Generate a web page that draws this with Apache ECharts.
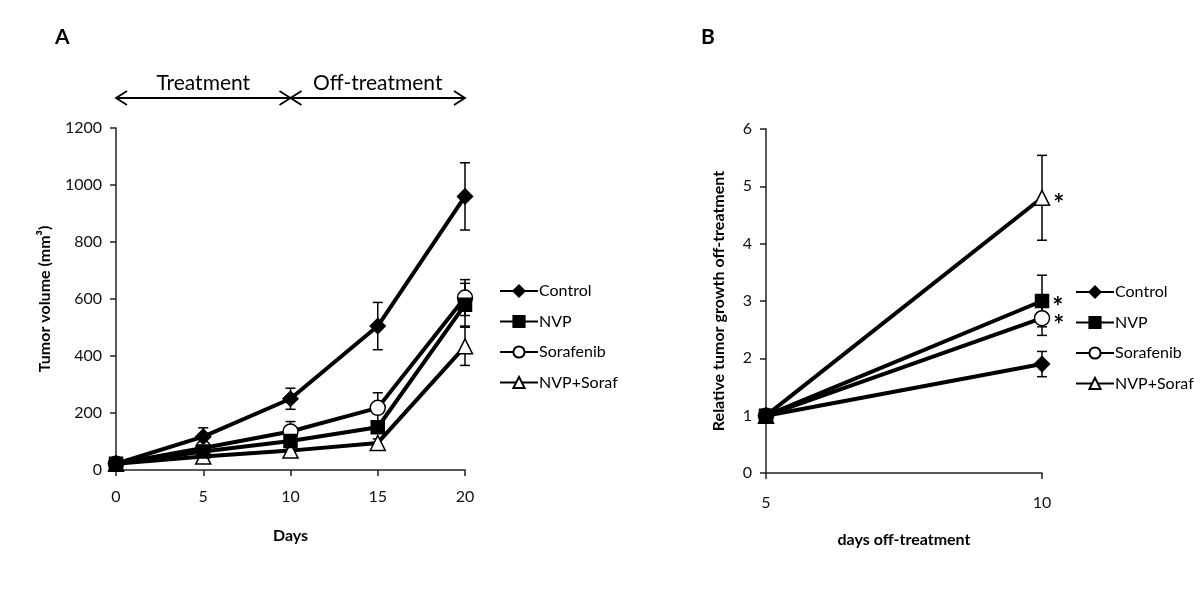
<!DOCTYPE html>
<html>
<head>
<meta charset="utf-8">
<script src="https://cdn.jsdelivr.net/npm/echarts@6/dist/echarts.min.js"></script>
<style>html,body{margin:0;padding:0;background:#fff}#c{width:1200px;height:601px}</style>
</head>
<body>
<div id="c"></div>
<script>
// ---- Data ----
const seriesNames = ['Control', 'NVP', 'Sorafenib', 'NVP+Soraf'];
// Panel A: tumor volume (mm³) by day
const daysA = [0, 5, 10, 15, 20];
const controlA = [22, 117, 250, 505, 960];
const controlErrA = [4, 31, 37, 83, 118];
const nvpA = [22, 65, 102, 150, 580];
const nvpErrA = [3, 12, 18, 20, 75];
const sorafA = [22, 77, 135, 218, 605];
const sorafErrA = [3, 15, 35, 53, 63];
const comboA = [22, 47, 68, 95, 434];
const comboErrA = [3, 8, 10, 14, 67];
const ticksA_x = [0, 5, 10, 15, 20];
const ticksA_y = [0, 200, 400, 600, 800, 1000, 1200];
// Panel B: relative tumor growth off-treatment
const daysB = [5, 10];
const controlB = [1, 1.9];
const controlErrB = [0, 0.22];
const nvpB = [1, 3.0];
const nvpErrB = [0, 0.45];
const sorafB = [1, 2.7];
const sorafErrB = [0, 0.3];
const comboB = [1, 4.8];
const comboErrB = [0, 0.74];
const sigB = ['', '*', '*', '*'];
const periodLabels = ['Treatment', 'Off-treatment'];
const periodBounds = [0, 10, 20];

const FONT = 'Lato, "Open Sans", sans-serif';
const markers = [
  {symbol: 'diamond', size: 15, color: '#000'},
  {symbol: 'rect', size: 13, color: '#000'},
  {symbol: 'circle', size: 15, color: '#fff'},
  {symbol: 'triangle', size: 15, color: '#fff'}
];
const valsA = [controlA, nvpA, sorafA, comboA];
const errsA = [controlErrA, nvpErrA, sorafErrA, comboErrA];
const valsB = [controlB, nvpB, sorafB, comboB];
const errsB = [controlErrB, nvpErrB, sorafErrB, comboErrB];

function errSeries(xs, vals, errs, idx) {
  const data = [];
  vals.forEach((v, i) => {
    if (errs[i] > 0) data.push([xs[i], v - errs[i], v + errs[i]]);
  });
  return {
    type: 'custom', xAxisIndex: idx, yAxisIndex: idx, z: 1, silent: true,
    data: data,
    renderItem: function (params, api) {
      const lo = api.coord([api.value(0), api.value(1)]);
      const hi = api.coord([api.value(0), api.value(2)]);
      const w = 5;
      const st = {stroke: '#000', lineWidth: 1.5, fill: null};
      return {type: 'group', children: [
        {type: 'line', shape: {x1: lo[0], y1: lo[1], x2: hi[0], y2: hi[1]}, style: st},
        {type: 'line', shape: {x1: lo[0] - w, y1: lo[1], x2: lo[0] + w, y2: lo[1]}, style: st},
        {type: 'line', shape: {x1: hi[0] - w, y1: hi[1], x2: hi[0] + w, y2: hi[1]}, style: st}
      ]};
    }
  };
}

function lineSeries(name, xs, vals, idx, k, sig) {
  return {
    name: name, type: 'line', xAxisIndex: idx, yAxisIndex: idx, z: 3,
    data: vals.map((v, i) => [xs[i], v]),
    symbol: markers[k].symbol, symbolSize: markers[k].size, showAllSymbol: true,
    lineStyle: {color: '#000', width: 4},
    itemStyle: {color: markers[k].color, borderColor: '#000', borderWidth: 1.5},
    label: sig ? {
      show: true, position: 'right', distance: 3,
      formatter: p => (p.dataIndex === vals.length - 1 ? sig : ''),
      fontSize: 26, fontWeight: 'bold', color: '#000', fontFamily: FONT, offset: [0, 7]
    } : {show: false},
    emphasis: {disabled: true},
    animation: false
  };
}

const series = [];
for (let k = 0; k < 4; k++) series.push(errSeries(daysA, valsA[k], errsA[k], 0));
for (let k = 0; k < 4; k++) series.push(errSeries(daysB, valsB[k], errsB[k], 1));
for (let k = 3; k >= 0; k--) series.push(lineSeries(seriesNames[k], daysA, valsA[k], 0, k, ''));
for (let k = 3; k >= 0; k--) series.push(lineSeries(seriesNames[k], daysB, valsB[k], 1, k, sigB[k]));

const axisCommon = {
  axisLine: {show: true, onZero: false, lineStyle: {color: '#222', width: 1.5}},
  axisTick: {show: true, inside: false, length: 6, lineStyle: {color: '#222', width: 1.5}},
  splitLine: {show: false},
  axisLabel: {color: '#111', fontSize: 16, fontFamily: FONT, formatter: v => String(v)},
  nameTextStyle: {color: '#000', fontSize: 16, fontWeight: 'bold', fontFamily: FONT},
  nameLocation: 'middle'
};

const legendCommon = {
  orient: 'vertical', data: seriesNames, itemWidth: 38, itemHeight: 14, itemGap: 14.5,
  textStyle: {fontSize: 16, color: '#000', fontFamily: FONT, padding: [0, 0, 0, -4]},
  selectedMode: false
};

const chart = echarts.init(document.getElementById('c'), null, {renderer: 'canvas'});
chart.setOption({
  animation: false,
  backgroundColor: '#fff',
  title: [
    {text: 'A', left: 50, top: 22, textStyle: {fontSize: 21, fontWeight: 'bold', color: '#000', fontFamily: FONT}},
    {text: 'B', left: 696, top: 22, textStyle: {fontSize: 21, fontWeight: 'bold', color: '#000', fontFamily: FONT}}
  ],
  grid: [
    {left: 116, top: 128, width: 349, height: 342},
    {left: 766, top: 129, width: 276, height: 344}
  ],
  xAxis: [
    Object.assign({}, axisCommon, {type: 'value', gridIndex: 0, min: ticksA_x[0], max: ticksA_x[ticksA_x.length - 1], interval: 5,
      name: 'Days', nameGap: 58, axisLabel: Object.assign({}, axisCommon.axisLabel, {margin: 19})}),
    Object.assign({}, axisCommon, {type: 'value', gridIndex: 1, min: 5, max: 10, interval: 5,
      name: 'days off-treatment', nameGap: 59, axisLabel: Object.assign({}, axisCommon.axisLabel, {margin: 22})})
  ],
  yAxis: [
    Object.assign({}, axisCommon, {type: 'value', gridIndex: 0, min: ticksA_y[0], max: ticksA_y[ticksA_y.length - 1], interval: 200,
      name: 'Tumor volume (mm³)', nameGap: 63, axisLabel: Object.assign({}, axisCommon.axisLabel, {margin: 14})}),
    Object.assign({}, axisCommon, {type: 'value', gridIndex: 1, min: 0, max: 6, interval: 1,
      name: 'Relative tumor growth off-treatment', nameGap: 39, axisLabel: Object.assign({}, axisCommon.axisLabel, {margin: 14})})
  ],
  legend: [
    Object.assign({}, legendCommon, {left: 494, top: 278}),
    Object.assign({}, legendCommon, {left: 1070, top: 279})
  ],
  series: series
});

// Treatment / Off-treatment arrows above panel A
const top0 = chart.convertToPixel({gridIndex: 0}, [0, ticksA_y[ticksA_y.length - 1]])[1];
const ay = top0 - 30;
const gEls = [];
const headSt = {stroke: '#000', lineWidth: 1.8, fill: null};
for (let i = 0; i < periodLabels.length; i++) {
  const x1 = chart.convertToPixel({gridIndex: 0}, [periodBounds[i], 0])[0];
  const x2 = chart.convertToPixel({gridIndex: 0}, [periodBounds[i + 1], 0])[0];
  gEls.push({type: 'line', shape: {x1: x1, y1: ay, x2: x2, y2: ay}, style: headSt});
  gEls.push({type: 'polyline', shape: {points: [[x1 + 11, ay - 7], [x1, ay], [x1 + 11, ay + 7]]}, style: headSt});
  gEls.push({type: 'polyline', shape: {points: [[x2 - 11, ay - 7], [x2, ay], [x2 - 11, ay + 7]]}, style: headSt});
  gEls.push({type: 'text', x: (x1 + x2) / 2, y: ay - 4,
    style: {text: periodLabels[i], fontSize: 21, fontFamily: FONT, fill: '#000', align: 'center', verticalAlign: 'bottom'}});
}
chart.setOption({graphic: gEls});
</script>
</body>
</html>
